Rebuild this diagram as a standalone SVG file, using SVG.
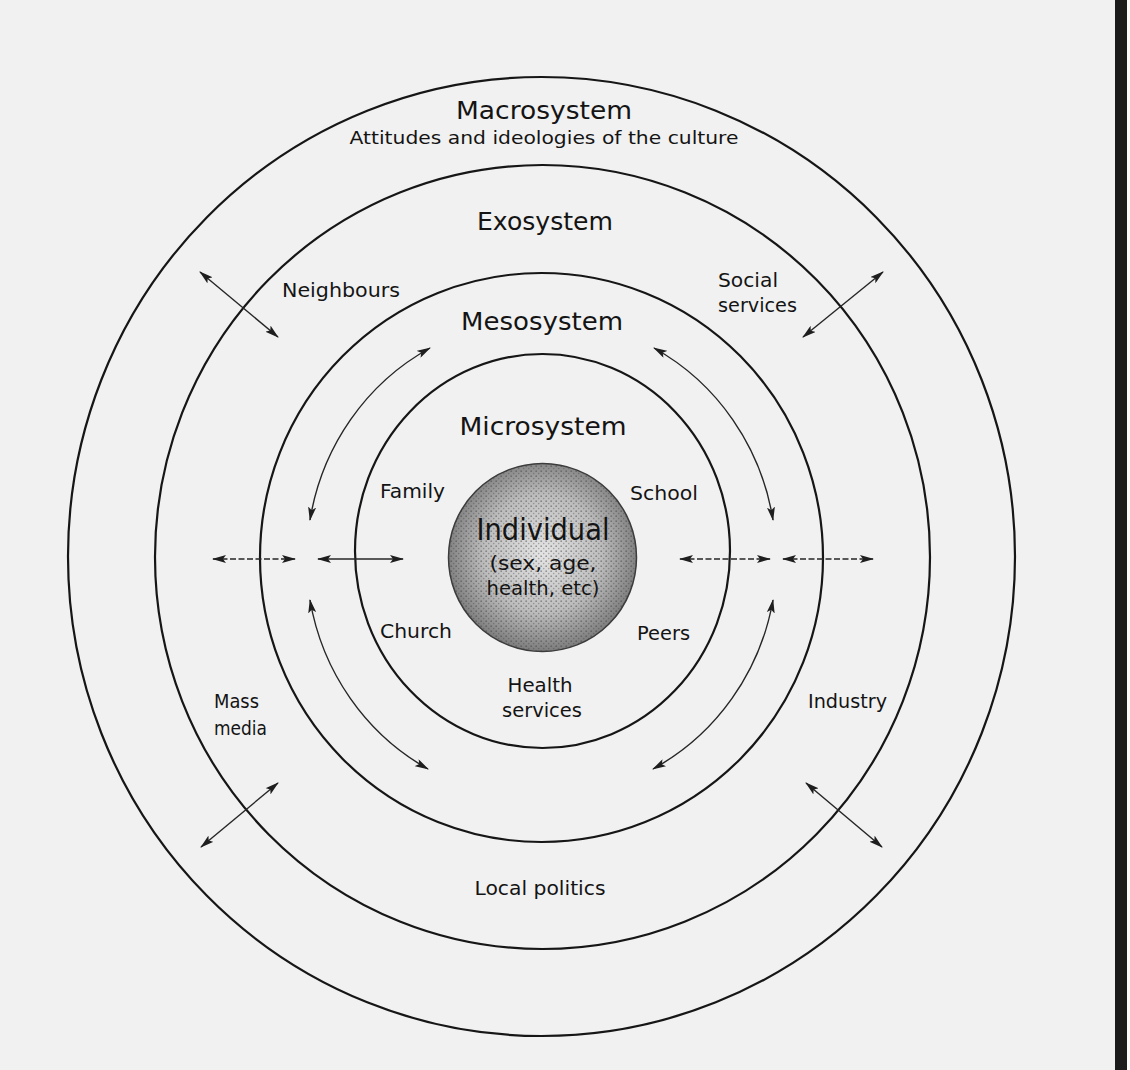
<svg xmlns="http://www.w3.org/2000/svg" width="1130" height="1070" viewBox="0 0 1130 1070">
<defs>
<style>
.ring{fill:none;stroke:#161616;stroke-width:2.2}
.t{font-family:"DejaVu Sans","Liberation Sans",sans-serif;fill:#141414}
.big{font-size:25px}
.mid{font-size:20px}
.sm{font-size:18px}
.ind{font-size:30px}
.arr{fill:none;stroke:#262626;stroke-width:1.4;marker-start:url(#ah);marker-end:url(#ah)}
.dash{stroke-dasharray:6 2.5}
</style>
<marker id="ah" viewBox="0 0 14 8" refX="13" refY="4" markerWidth="14" markerHeight="8" markerUnits="userSpaceOnUse" orient="auto-start-reverse">
<path d="M0,0 L14,4 L0,8 L3,4 z" fill="#1e1e1e"/>
</marker>
<radialGradient id="indg" cx="50%" cy="48%" r="52%">
<stop offset="0" stop-color="#e4e4e4"/>
<stop offset="0.6" stop-color="#bdbdbd"/>
<stop offset="1" stop-color="#7c7c7c"/>
</radialGradient>
<pattern id="dots" width="5" height="5" patternUnits="userSpaceOnUse">
<circle cx="1.2" cy="1.2" r="0.9" fill="#3a3a3a" fill-opacity="0.45"/>
<circle cx="3.7" cy="3.6" r="0.8" fill="#3a3a3a" fill-opacity="0.35"/>
</pattern>
</defs>

<rect x="0" y="0" width="1130" height="1070" fill="#f1f1f1"/>
<rect x="1115" y="0" width="12" height="1070" fill="#1b1b1b"/>
<rect x="1127" y="0" width="3" height="1070" fill="#fafafa"/>

<g id="macrosystem">
<ellipse class="ring" cx="541.5" cy="556.5" rx="473.5" ry="479.5"/>
<text class="t big" x="544" y="119" text-anchor="middle" textLength="176" lengthAdjust="spacingAndGlyphs">Macrosystem</text>
<text class="t sm" x="544" y="144" text-anchor="middle" textLength="389" lengthAdjust="spacingAndGlyphs">Attitudes and ideologies of the culture</text>
</g>

<g id="exosystem">
<ellipse class="ring" cx="542.5" cy="557" rx="387.5" ry="392"/>
<text class="t big" x="545" y="230" text-anchor="middle" textLength="136" lengthAdjust="spacingAndGlyphs">Exosystem</text>
</g>

<g id="mesosystem">
<ellipse class="ring" cx="541.5" cy="557.5" rx="281.5" ry="284.5"/>
<text class="t big" x="542" y="330" text-anchor="middle" textLength="162" lengthAdjust="spacingAndGlyphs">Mesosystem</text>
</g>

<g id="microsystem">
<ellipse class="ring" cx="542.5" cy="551" rx="187.5" ry="197"/>
<text class="t big" x="543" y="435" text-anchor="middle" textLength="167" lengthAdjust="spacingAndGlyphs">Microsystem</text>
</g>

<g id="individual">
<circle cx="542.5" cy="557.5" r="94" fill="url(#indg)"/>
<circle cx="542.5" cy="557.5" r="94" fill="url(#dots)" stroke="#3c3c3c" stroke-width="1.5"/>
<text class="t ind" x="543" y="540" text-anchor="middle" textLength="133" lengthAdjust="spacingAndGlyphs">Individual</text>
<text class="t mid" x="543" y="570" text-anchor="middle" textLength="107" lengthAdjust="spacingAndGlyphs">(sex, age,</text>
<text class="t mid" x="543" y="595" text-anchor="middle" textLength="113" lengthAdjust="spacingAndGlyphs">health, etc)</text>
</g>

<g id="family"><text class="t mid" x="380" y="498" textLength="65" lengthAdjust="spacingAndGlyphs">Family</text></g>
<g id="school"><text class="t mid" x="630" y="500" textLength="68" lengthAdjust="spacingAndGlyphs">School</text></g>
<g id="church"><text class="t mid" x="380" y="638" textLength="72" lengthAdjust="spacingAndGlyphs">Church</text></g>
<g id="peers"><text class="t mid" x="637" y="640" textLength="53" lengthAdjust="spacingAndGlyphs">Peers</text></g>
<g id="health-services">
<text class="t mid" x="540" y="692" text-anchor="middle" textLength="65" lengthAdjust="spacingAndGlyphs">Health</text>
<text class="t mid" x="542" y="717" text-anchor="middle" textLength="80" lengthAdjust="spacingAndGlyphs">services</text>
</g>
<g id="neighbours"><text class="t mid" x="282" y="297" textLength="118" lengthAdjust="spacingAndGlyphs">Neighbours</text></g>
<g id="social-services">
<text class="t mid" x="718" y="287" textLength="60" lengthAdjust="spacingAndGlyphs">Social</text>
<text class="t mid" x="718" y="312" textLength="79" lengthAdjust="spacingAndGlyphs">services</text>
</g>
<g id="mass-media">
<text class="t mid" x="214" y="708" textLength="45" lengthAdjust="spacingAndGlyphs">Mass</text>
<text class="t mid" x="214" y="735" textLength="53" lengthAdjust="spacingAndGlyphs">media</text>
</g>
<g id="industry"><text class="t mid" x="808" y="708" textLength="79" lengthAdjust="spacingAndGlyphs">Industry</text></g>
<g id="local-politics"><text class="t mid" x="540" y="895" text-anchor="middle" textLength="131" lengthAdjust="spacingAndGlyphs">Local politics</text></g>

<g id="connectors">
<line class="arr" x1="200" y1="272" x2="278" y2="337"/>
<line class="arr" x1="883" y1="272" x2="803" y2="337"/>
<line class="arr" x1="278" y1="783" x2="201" y2="847"/>
<line class="arr" x1="806" y1="783" x2="882" y2="847"/>
<line class="arr dash" x1="213" y1="559" x2="295" y2="559"/>
<line class="arr" x1="318" y1="559" x2="403" y2="559"/>
<line class="arr dash" x1="680" y1="559" x2="770" y2="559"/>
<line class="arr dash" x1="783" y1="559" x2="873" y2="559"/>
<path class="arr" d="M430,348 A233,240 0 0 0 310,520"/>
<path class="arr" d="M310,600 A233,240 0 0 0 428,769"/>
<path class="arr" d="M654,348 A233,240 0 0 1 773,520"/>
<path class="arr" d="M773,600 A233,240 0 0 1 653,769"/>
</g>
</svg>
